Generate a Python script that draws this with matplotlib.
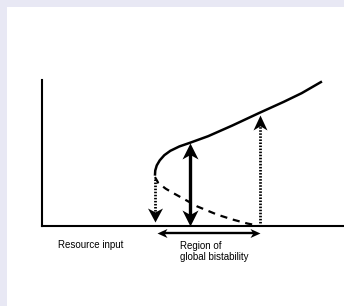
import matplotlib
matplotlib.use("Agg")
import matplotlib.pyplot as plt
from matplotlib.path import Path
from matplotlib.patches import Rectangle

# ---- data (resource input x, system state y) ----
upper_x = [3.74, 3.75, 3.80, 3.90, 4.05, 4.25, 4.55, 4.90, 5.50, 6.30, 7.20, 8.00, 8.60, 9.27]
upper_y = [3.45, 3.80, 4.15, 4.50, 4.85, 5.15, 5.45, 5.70, 6.15, 6.88, 7.75, 8.50, 9.10, 9.90]
lower_x = [3.74, 3.85, 4.10, 4.35, 4.70, 5.13, 5.80, 6.30, 6.80, 7.15]
lower_y = [3.35, 2.95, 2.55, 2.25, 1.85, 1.35, 0.78, 0.45, 0.17, 0.03]

collapse_x = 3.74      # dotted arrow down
collapse_y = [3.20, 0.25]
solid_x = 4.90         # solid double arrow
solid_y = [5.70, 0.0]
recover_x = 7.22       # dotted arrow up
recover_y = [0.0, 7.60]
region_x = [3.80, 7.22]  # horizontal double arrow
region_y = -0.50

x_label = "Resource input"
region_label = "Region of\nglobal bistability"

W, H, DPI = 344, 306, 100
fig = plt.figure(figsize=(W / DPI, H / DPI), dpi=DPI, facecolor="#e8e8f4")
fig.patches.append(Rectangle((7 / W, 0), 1, (H - 7) / H, transform=fig.transFigure,
                             facecolor="white", edgecolor="none", zorder=-10))

ax = fig.add_axes([42 / W, 80 / H, 302 / W, 146 / H])
ax.set_zorder(1)
ax.set_facecolor("none")
ax.set_xlim(0, 10)
ax.set_ylim(0, 10)
for s in ("top", "right"):
    ax.spines[s].set_visible(False)
for s in ("left", "bottom"):
    ax.spines[s].set_linewidth(1.5)
    ax.spines[s].set_color("black")
ax.set_xticks([])
ax.set_yticks([])

ax.plot(upper_x, upper_y, color="black", lw=1.8, solid_capstyle="butt", clip_on=False)
ax.plot(lower_x, lower_y, color="black", lw=1.6, linestyle=(0, (3.2, 2.6)), clip_on=False)


def head(x, y, direction, L, Wd, notch=0.72):
    # path in pixel units, tip at origin, pointing up
    verts = [(0, 0), (-Wd / 2, -L), (0, -L * notch), (Wd / 2, -L), (0, 0)]
    if direction == "down":
        verts = [(vx, -vy) for vx, vy in verts]
    elif direction == "left":
        verts = [(-vy, vx) for vx, vy in verts]
    elif direction == "right":
        verts = [(vy, vx) for vx, vy in verts]
    codes = [Path.MOVETO, Path.LINETO, Path.LINETO, Path.LINETO, Path.CLOSEPOLY]
    p = Path(verts, codes)
    m = max(max(abs(a), abs(b)) for a, b in verts)
    ms = 2 * m * 72 / DPI
    ax.plot([x], [y], marker=p, markersize=ms, color="black", markeredgewidth=0,
            linestyle="none", clip_on=False, zorder=5)


# dotted collapse arrow
ax.plot([collapse_x, collapse_x], [collapse_y[0], collapse_y[1] + 0.6], color="black",
        lw=2.0, linestyle=(0, (0.55, 0.55)), clip_on=False)
head(collapse_x, collapse_y[1], "down", 14, 15)

# solid double arrow
ax.plot([solid_x, solid_x], [solid_y[0] - 0.6, solid_y[1] + 0.6], color="black", lw=2.4,
        clip_on=False)
head(solid_x, solid_y[0], "up", 16, 16)
head(solid_x, solid_y[1], "down", 16, 16)

# dotted recovery arrow
ax.plot([recover_x, recover_x], [recover_y[0], recover_y[1] - 0.6], color="black",
        lw=2.0, linestyle=(0, (0.55, 0.55)), clip_on=False)
head(recover_x, recover_y[1], "up", 15, 14)

# horizontal double arrow
ax.plot([region_x[0] + 0.2, region_x[1] - 0.2], [region_y, region_y], color="black",
        lw=1.7, clip_on=False)
head(region_x[0], region_y, "left", 10, 9)
head(region_x[1], region_y, "right", 10, 9)

ax.text(0.53, -1.30, x_label, fontsize=7, family="Liberation Sans", va="center",
        ha="left", clip_on=False)
ax.text(4.57, -1.05, region_label, fontsize=7, family="Liberation Sans", va="top",
        ha="left", linespacing=1.05, clip_on=False)

fig.savefig("out.png", dpi=DPI, facecolor=fig.get_facecolor())
